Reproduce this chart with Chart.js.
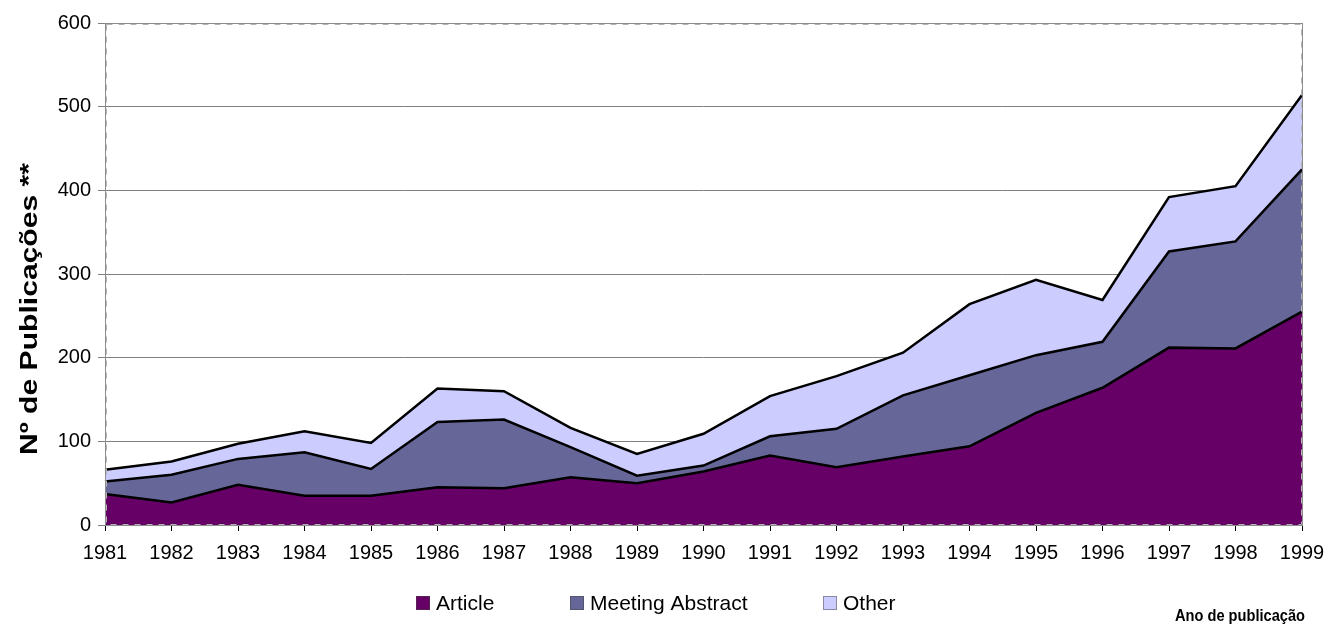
<!DOCTYPE html>
<html>
<head>
<meta charset="utf-8">
<script src="https://cdn.jsdelivr.net/npm/chart.js@4"></script>
<style>
  html, body { margin: 0; padding: 0; background: #fff; }
  #wrap { width: 1331px; height: 629px; }
</style>
</head>
<body>
<div id="wrap"><canvas id="pubChart"></canvas></div>
<script>
const years = ['1981','1982','1983','1984','1985','1986','1987','1988','1989','1990',
               '1991','1992','1993','1994','1995','1996','1997','1998','1999'];
const article  = [37, 27, 48, 35, 35, 45, 44, 57, 50, 64, 83, 69, 82, 94, 134, 164, 212, 211, 255];
const meeting  = [15, 33, 31, 52, 32, 78, 82, 36,  9,  7, 23, 46, 73, 85,  69,  55, 115, 128, 170];
const other    = [14, 16, 18, 25, 31, 40, 34, 23, 26, 38, 48, 63, 51, 85,  90,  50,  65,  66,  89];
const yTicks   = [0, 100, 200, 300, 400, 500, 600];

const FONT = "'Liberation Sans', Arial, sans-serif";

// gray frame round the plot area, plus legend and axis titles
const framePlugin = {
    id: 'frame',
    afterDatasetsDraw(chart) {
        const { ctx, chartArea: a } = chart;
        ctx.save();
        ctx.strokeStyle = '#8c8c8c';
        ctx.lineWidth = 1;
        ctx.strokeRect(a.left + 0.5, a.top + 0.5, a.right - a.left, a.bottom - a.top);
        ctx.strokeStyle = '#b4b4b4';
        ctx.setLineDash([6, 6]);
        ctx.strokeRect(a.left + 1.5, a.top + 1.5, a.right - a.left - 2, a.bottom - a.top - 2);
        ctx.restore();
    },
    afterDraw(chart) {
        const { ctx } = chart;
        ctx.save();

        // legend
        ctx.font = '21px ' + FONT;
        ctx.textBaseline = 'middle';
        const pos = [416, 570, 823];
        chart.data.datasets.forEach((ds, i) => {
            const x = pos[i];
            ctx.fillStyle = ds.backgroundColor;
            ctx.fillRect(x, 596, 14, 14);
            ctx.strokeStyle = '#444';
            ctx.lineWidth = 1;
            ctx.setLineDash([1, 1]);
            ctx.strokeRect(x + 0.5, 596.5, 13, 13);
            ctx.setLineDash([]);
            ctx.fillStyle = '#000';
            ctx.fillText(ds.label, x + 20, 604);
        });

        // x axis title
        ctx.save();
        ctx.font = 'bold 17px ' + FONT;
        ctx.textAlign = 'center';
        const xTitle = 'Ano de publicação';
        const xw = ctx.measureText(xTitle).width;
        ctx.translate(1240, 616);
        ctx.scale(130 / xw, 1);
        ctx.fillText(xTitle, 0, 0);
        ctx.restore();

        // y axis title, stretched along its length like the original
        const yTitle = 'Nº de Publicações **';
        ctx.font = 'bold 24px ' + FONT;
        ctx.textAlign = 'center';
        const w = ctx.measureText(yTitle).width;
        ctx.translate(30, 309);
        ctx.rotate(-Math.PI / 2);
        ctx.scale(292 / w, 1);
        ctx.fillText(yTitle, 0, 0);
        ctx.restore();
    }
};

new Chart(document.getElementById('pubChart'), {
    type: 'line',
    data: {
        labels: years,
        datasets: [
            { label: 'Article', data: article, backgroundColor: '#660066', fill: 'origin' },
            { label: 'Meeting Abstract', data: meeting, backgroundColor: '#666699', fill: '-1' },
            { label: 'Other', data: other, backgroundColor: '#CCCCFF', fill: '-1' }
        ].map(d => Object.assign(d, {
            borderColor: '#000',
            borderWidth: 2.5,
            pointRadius: 0,
            tension: 0
        }))
    },
    options: {
        responsive: true,
        maintainAspectRatio: false,
        animation: false,
        layout: { padding: { left: 0, top: 23, right: 29, bottom: 0 } },
        plugins: {
            legend: { display: false },
            tooltip: { enabled: false }
        },
        scales: {
            x: {
                offset: false,
                afterFit(s) { s.height = 104; s.paddingRight = 0; },
                grid: { drawOnChartArea: false, color: '#000', tickLength: 6, drawTicks: true },
                border: { display: true, color: '#000', width: 1 },
                ticks: { color: '#000', font: { family: FONT, size: 20 }, padding: 10, maxRotation: 0, autoSkip: false }
            },
            y: {
                stacked: true,
                min: 0,
                max: 600,
                afterFit(s) { s.width = 105; },
                afterBuildTicks(s) { s.ticks = yTicks.map(v => ({ value: v })); },
                grid: { color: '#808080', lineWidth: 1, tickLength: 7 },
                border: { display: false },
                ticks: { color: '#000', font: { family: FONT, size: 20 }, padding: 7 }
            }
        }
    },
    plugins: [framePlugin]
});
</script>
</body>
</html>
